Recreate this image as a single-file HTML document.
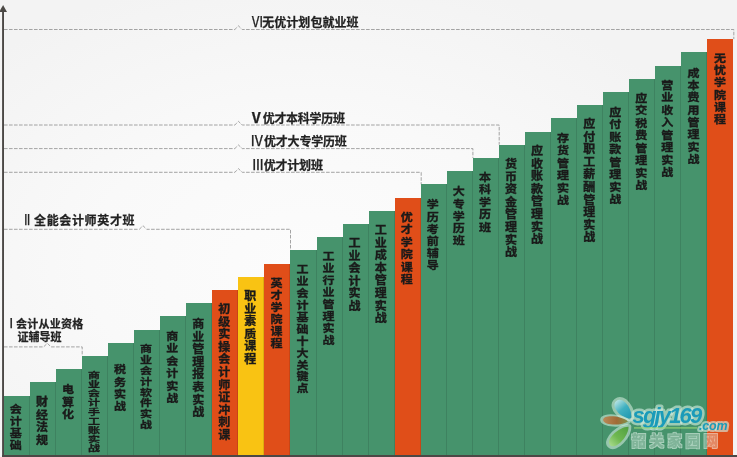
<!DOCTYPE html>
<html lang="zh-CN"><head><meta charset="utf-8"><title>课程体系</title>
<style>
html,body{margin:0;padding:0;}
body{width:737px;height:457px;overflow:hidden;background:#f4f4f4;position:relative;font-family:"Liberation Sans","Noto Sans CJK SC",sans-serif;}
#c{position:absolute;left:0;top:0;width:737px;height:457px;overflow:hidden;background:radial-gradient(ellipse 60% 65% at 42% 58%,#fcfcfc 0%,#f9f9f9 50%,#f3f3f3 100%);}
.b{position:absolute;box-sizing:border-box;border-right:1px solid rgba(0,0,0,.11);}
.b.last{border-right:0;}
.t{position:absolute;left:50%;width:12px;margin-left:-6.5px;font-size:12px;font-weight:bold;color:#1a1a1a;-webkit-text-stroke:0.4px #1a1a1a;text-align:center;word-break:break-all;transform-origin:50% 0;}
.l{position:absolute;font-weight:bold;color:#222;-webkit-text-stroke:0.25px #222;font-size:12px;line-height:14px;white-space:nowrap;}
svg{position:absolute;left:0;top:0;}
</style></head><body><div id="c">

<svg width="737" height="457" viewBox="0 0 737 457">
<g fill="none" stroke="#8e8e8e" stroke-width="0.8" stroke-dasharray="3.6 1.4">
<path d="M4 29.5 H234.8 L238.5 25.9 L242.2 29.5 H733.8 V39.1"/>
<path d="M4 125 H234.8 L238.5 121.4 L242.2 125 H499.2 V144.7"/>
<path d="M4 148.6 H234.8 L238.5 145.0 L242.2 148.6 H472.9 V157.9"/>
<path d="M4 172.3 H234.8 L238.5 168.7 L242.2 172.3 H421.2 V184.3"/>
<path d="M4 229.3 H139.3 L143 225.7 L146.7 229.3 H290.5 V250.3"/>
<path d="M4 346.9 H43.6 L47.3 343.3 L51.0 346.9 H82.2 V355.9"/>
</g>
<rect x="2.1" y="10" width="1.9" height="447" fill="#4b4845"/>
<path d="M3.1 5 L7 12 L-0.8 12 Z" fill="#4b4845"/>
</svg>
<div class="b" style="left:3.8px;top:395.5px;width:26.06px;height:59.5px;background:#46936c"><div class="t" style="top:8.15px;line-height:14.00px;transform:scaleY(0.84)">会计基础</div></div>
<div class="b" style="left:29.86px;top:382.3px;width:26.06px;height:72.7px;background:#46936c"><div class="t" style="top:14.15px;line-height:14.00px;transform:scaleY(0.9)">财经法规</div></div>
<div class="b" style="left:55.92px;top:369.1px;width:26.06px;height:85.9px;background:#46936c"><div class="t" style="top:15.24px;line-height:14.00px;transform:scaleY(0.86)">电算化</div></div>
<div class="b" style="left:81.98px;top:355.9px;width:26.06px;height:99.1px;background:#46936c"><div class="t" style="top:14.70px;line-height:14.00px;transform:scaleY(0.65)">商业会计手工账实战</div></div>
<div class="b" style="left:108.04px;top:342.7px;width:26.06px;height:112.3px;background:#46936c"><div class="t" style="top:21.76px;line-height:14.00px;transform:scaleY(0.86)">税务实战</div></div>
<div class="b" style="left:134.1px;top:329.5px;width:26.06px;height:125.5px;background:#46936c"><div class="t" style="top:14.83px;line-height:14.00px;transform:scaleY(0.77)">商业会计软件实战</div></div>
<div class="b" style="left:160.16px;top:316.3px;width:26.06px;height:138.7px;background:#46936c"><div class="t" style="top:13.82px;line-height:14.00px;transform:scaleY(0.89)">商业会计实战</div></div>
<div class="b" style="left:186.22px;top:303.1px;width:26.06px;height:151.9px;background:#46936c"><div class="t" style="top:15.31px;line-height:14.00px;transform:scaleY(0.9)">商业管理报表实战</div></div>
<div class="b" style="left:212.28px;top:289.9px;width:26.06px;height:165.1px;background:#e04e19"><div class="t" style="top:13.50px;line-height:14.00px;transform:scaleY(0.9)">初级实操会计师证冲刺课</div></div>
<div class="b" style="left:238.34px;top:276.7px;width:26.06px;height:178.3px;background:#f9c313"><div class="t" style="top:13.75px;line-height:14.00px;transform:scaleY(0.9)">职业素质课程</div></div>
<div class="b" style="left:264.4px;top:263.5px;width:26.06px;height:191.5px;background:#e04e19"><div class="t" style="top:13.94px;line-height:14.00px;transform:scaleY(0.87)">英才学院课程</div></div>
<div class="b" style="left:290.46px;top:250.3px;width:26.06px;height:204.7px;background:#46936c"><div class="t" style="top:14.02px;line-height:14.00px;transform:scaleY(0.85)">工业会计基础十大关键点</div></div>
<div class="b" style="left:316.52px;top:237.1px;width:26.06px;height:217.9px;background:#46936c"><div class="t" style="top:13.47px;line-height:14.00px;transform:scaleY(0.85)">工业行业管理实战</div></div>
<div class="b" style="left:342.58px;top:223.9px;width:26.06px;height:231.1px;background:#46936c"><div class="t" style="top:13.59px;line-height:14.00px;transform:scaleY(0.9)">工业会计实战</div></div>
<div class="b" style="left:368.64px;top:210.7px;width:26.06px;height:244.3px;background:#46936c"><div class="t" style="top:13.62px;line-height:14.00px;transform:scaleY(0.9)">工业成本管理实战</div></div>
<div class="b" style="left:394.7px;top:197.5px;width:26.06px;height:257.5px;background:#e04e19"><div class="t" style="top:13.84px;line-height:14.00px;transform:scaleY(0.89)">优才学院课程</div></div>
<div class="b" style="left:420.76px;top:184.3px;width:26.06px;height:270.7px;background:#46936c"><div class="t" style="top:14.73px;line-height:14.00px;transform:scaleY(0.86)">学历考前辅导</div></div>
<div class="b" style="left:446.82px;top:171.1px;width:26.06px;height:283.9px;background:#46936c"><div class="t" style="top:15.37px;line-height:14.00px;transform:scaleY(0.86)">大专学历班</div></div>
<div class="b" style="left:472.88px;top:157.9px;width:26.06px;height:297.1px;background:#46936c"><div class="t" style="top:13.29px;line-height:14.00px;transform:scaleY(0.89)">本科学历班</div></div>
<div class="b" style="left:498.94px;top:144.7px;width:26.06px;height:310.3px;background:#46936c"><div class="t" style="top:13.71px;line-height:14.00px;transform:scaleY(0.9)">货币资金管理实战</div></div>
<div class="b" style="left:525.0px;top:131.5px;width:26.06px;height:323.5px;background:#46936c"><div class="t" style="top:13.79px;line-height:14.00px;transform:scaleY(0.9)">应收账款管理实战</div></div>
<div class="b" style="left:551.06px;top:118.3px;width:26.06px;height:336.7px;background:#46936c"><div class="t" style="top:13.81px;line-height:14.00px;transform:scaleY(0.89)">存货管理实战</div></div>
<div class="b" style="left:577.12px;top:105.1px;width:26.06px;height:349.9px;background:#46936c"><div class="t" style="top:13.31px;line-height:14.00px;transform:scaleY(0.9)">应付职工薪酬管理实战</div></div>
<div class="b" style="left:603.18px;top:91.9px;width:26.06px;height:363.1px;background:#46936c"><div class="t" style="top:14.41px;line-height:14.00px;transform:scaleY(0.89)">应付账款管理实战</div></div>
<div class="b" style="left:629.24px;top:78.7px;width:26.06px;height:376.3px;background:#46936c"><div class="t" style="top:13.74px;line-height:14.00px;transform:scaleY(0.89)">应交税费管理实战</div></div>
<div class="b" style="left:655.3px;top:65.5px;width:26.06px;height:389.5px;background:#46936c"><div class="t" style="top:13.96px;line-height:14.00px;transform:scaleY(0.89)">营业收入管理实战</div></div>
<div class="b" style="left:681.36px;top:52.3px;width:26.06px;height:402.7px;background:#46936c"><div class="t" style="top:14.75px;line-height:14.00px;transform:scaleY(0.88)">成本费用管理实战</div></div>
<div class="b last" style="left:707.42px;top:39.1px;width:26.06px;height:415.9px;background:#e04e19"><div class="t" style="top:13.28px;line-height:14.00px;transform:scaleY(0.88)">无忧学院课程</div></div>
<svg width="737" height="457" viewBox="0 0 737 457" style="pointer-events:none">
<defs>
<linearGradient id="gb" x1="0" y1="0" x2="1" y2="0"><stop offset="0" stop-color="#1f97b0"/><stop offset="0.55" stop-color="#3fb0c0"/><stop offset="1" stop-color="#b5e2e2"/></linearGradient>
<linearGradient id="gr" x1="0" y1="0" x2="1" y2="0"><stop offset="0" stop-color="#7f8f4a"/><stop offset="0.45" stop-color="#a06a36"/><stop offset="1" stop-color="#b98a58"/></linearGradient>
<linearGradient id="gg" x1="0" y1="0" x2="1" y2="0"><stop offset="0" stop-color="#4f9f3f"/><stop offset="0.6" stop-color="#6fb850"/><stop offset="1" stop-color="#a5d98a"/></linearGradient>
<filter id="ol" x="-5%" y="-25%" width="110%" height="150%">
<feMorphology in="SourceAlpha" operator="dilate" radius="1.1" result="d"/>
<feGaussianBlur in="d" stdDeviation="0.45" result="db"/>
<feComposite in="db" in2="SourceAlpha" operator="out" result="ring"/>
<feFlood flood-color="#f4fff8" flood-opacity=".55" result="fl"/>
<feComposite in="fl" in2="ring" operator="in" result="ringc"/>
<feFlood flood-color="#e8efe9" flood-opacity=".36" result="f2"/>
<feComposite in="f2" in2="SourceAlpha" operator="in" result="body"/>
<feMerge><feMergeNode in="ringc"/><feMergeNode in="body"/></feMerge>
</filter>
</defs>
<g stroke="rgba(220,242,230,.55)" stroke-width="6" stroke-linejoin="round" paint-order="stroke">
<path d="M0 0 C6 -7.5 26 -8.5 26 0 C26 8.5 6 7.5 0 0 Z" fill="url(#gb)" transform="translate(631 418.5) rotate(-130) scale(0.88 1.0)"/>
<path d="M0 0 C6 -7.5 26 -8.5 26 0 C26 8.5 6 7.5 0 0 Z" fill="url(#gr)" transform="translate(628 421.5) rotate(184) scale(0.96 0.68)"/>
<path d="M0 0 C6 -7.5 26 -8.5 26 0 C26 8.5 6 7.5 0 0 Z" fill="url(#gg)" transform="translate(628.5 426.8) rotate(135) scale(1.0 0.9)"/>
</g>
<g font-family="'Liberation Sans',sans-serif" font-weight="bold" font-style="italic" paint-order="stroke" stroke-linejoin="round">
<text x="632.6" y="423.2" font-size="22" letter-spacing="-1.85" fill="#1a9bb9" stroke="rgba(210,238,226,.62)" stroke-width="5">sgjy169</text>
<text x="699" y="429.6" font-size="12.5" letter-spacing="-0.2" fill="#1a9bb9" stroke="rgba(210,238,226,.62)" stroke-width="4.2">.com</text>
</g>
<rect x="634" y="427.2" width="63" height="1.4" fill="rgba(150,215,120,.8)"/>
<text x="631.5" y="445.8" font-family="'Liberation Sans','Noto Sans CJK SC',sans-serif" font-weight="bold" font-size="14.5" letter-spacing="3.5" fill="#fff" filter="url(#ol)">韶关家园网</text>
</svg>
<div style="position:absolute;left:2px;top:455px;width:735px;height:2px;background:#4b4845"></div>
<div class="l" style="left:251.2px;top:14.5px;font-weight:normal;font-size:14px;transform-origin:0 0;transform:scaleX(0.93)">Ⅵ</div><div class="l" style="left:262.2px;top:15.5px;letter-spacing:0.05px">无优计划包就业班</div>
<div class="l" style="left:249.2px;top:110.8px;font-weight:bold;font-size:14px;transform-origin:0 0;transform:scaleX(1.0)">Ⅴ</div><div class="l" style="left:262.7px;top:112px;letter-spacing:-0.3px">优才本科学历班</div>
<div class="l" style="left:249.7px;top:133.5px;font-weight:normal;font-size:14px;transform-origin:0 0;transform:scaleX(1.0)">Ⅳ</div><div class="l" style="left:264px;top:134.7px;letter-spacing:-0.2px">优才大专学历班</div>
<div class="l" style="left:252.3px;top:158.0px;font-weight:500;font-size:14px;transform-origin:0 0;transform:scaleX(0.85)">Ⅲ</div><div class="l" style="left:263.7px;top:159.2px;letter-spacing:-0.2px">优才计划班</div>
<div class="l" style="left:22.9px;top:212.5px;font-weight:bold;font-size:14px;transform-origin:0 0;transform:scaleX(0.6)">Ⅱ</div><div class="l" style="left:34px;top:213.7px;letter-spacing:0.65px">全能会计师英才班</div>
<div class="l" style="left:4.4px;top:316.6px;font-size:13.5px;line-height:13.3px;font-weight:normal;color:#222">Ⅰ</div>
<div class="l" style="left:16.1px;top:317.9px;font-size:11px;line-height:13.3px"><span style="letter-spacing:0.25px">会计从业资格</span><br><span style="margin-left:1.3px">证辅导班</span></div>
</div></body></html>
